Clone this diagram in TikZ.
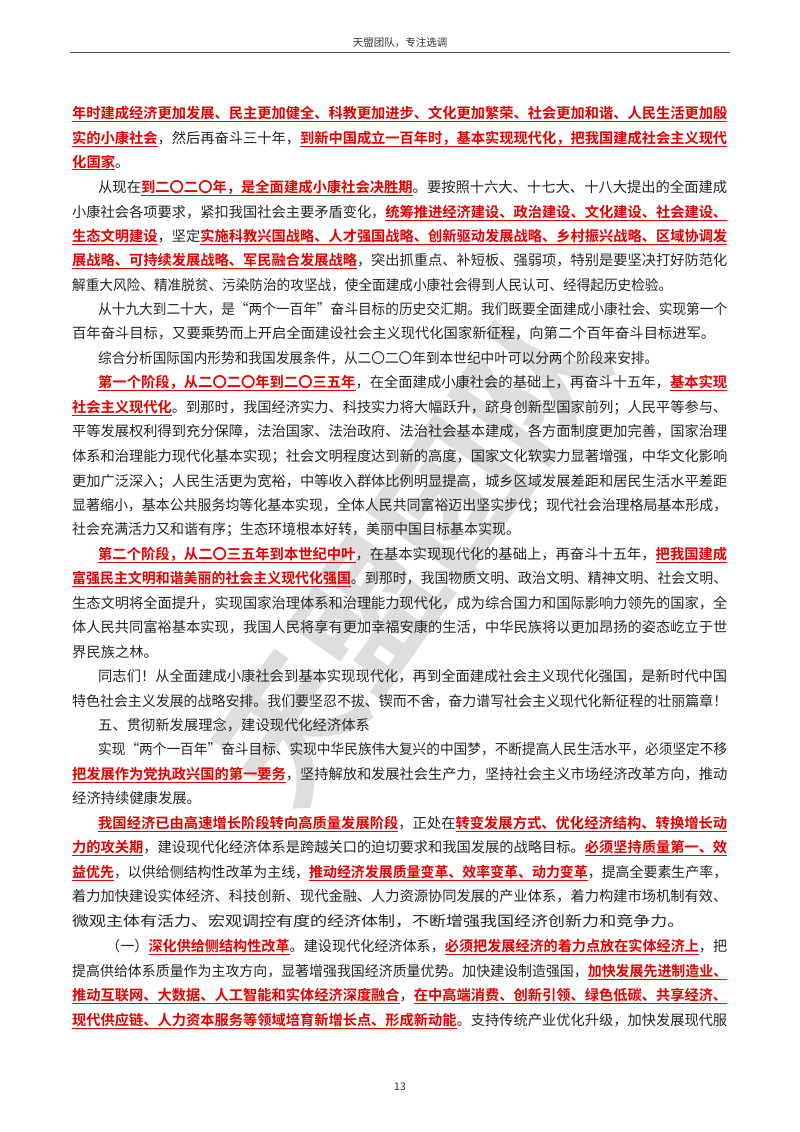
\documentclass[tikz,border=0pt]{standalone}
\usepackage{fontspec}
\usepackage{graphicx}
\setmainfont{Noto Sans CJK SC}[BoldFont={Noto Sans CJK SC Bold}]
\definecolor{hl}{RGB}{232,0,0}
\newcommand\R[1]{{\color{hl}\bfseries\underline{#1}}}
\newcommand\J[2]{\resizebox{#1}{\height}{#2}}
\newcommand\fs{\fontsize{14.3pt}{16pt}\selectfont}
\tikzset{ln/.style={anchor=base west,inner sep=0pt,font=\fs,text=black!85}}
\begin{document}
\begin{tikzpicture}[x=1pt,y=-1pt]
\useasboundingbox (0,0) rectangle (800,1132);
\fill[white] (0,0) rectangle (800,1132);
% watermark
\node[text=black!13,font=\fontsize{140pt}{140pt}\selectfont\bfseries,rotate=55,inner sep=0pt] (wm) at (410,555) {天盟团队};
% header
\node[font=\fontsize{10.5pt}{12pt}\selectfont,text=black!80] (hd) at (400,43) {天盟团队，专注选调};
\coordinate (hl1) at (70,52); \coordinate (hl2) at (730,52);
\draw[line width=0.5pt,black!70] (hl1) -- (hl2);
\node[font=\fontsize{10.5pt}{12pt}\selectfont,text=black!80] (pg) at (400,1087) {13};
% body
\node[ln] (l0) at (72,118) {\J{655pt}{\R{年时建成经济更加发展、民主更加健全、科教更加进步、文化更加繁荣、社会更加和谐、人民生活更加殷}}};
\node[ln] (l1) at (72,143) {\J{655pt}{\R{实的小康社会}，然后再奋斗三十年，\R{到新中国成立一百年时，基本实现现代化，把我国建成社会主义现代}}};
\node[ln] (l2) at (72,167) {\R{化国家}。};
\node[ln] (l3) at (98,192) {\J{629pt}{从现在\R{到二〇二〇年，是全面建成小康社会决胜期}。要按照十六大、十七大、十八大提出的全面建成}};
\node[ln] (l4) at (72,217) {\J{655pt}{小康社会各项要求，紧扣我国社会主要矛盾变化，\R{统筹推进经济建设、政治建设、文化建设、社会建设、}}};
\node[ln] (l5) at (72,241) {\J{655pt}{\R{生态文明建设}，坚定\R{实施科教兴国战略、人才强国战略、创新驱动发展战略、乡村振兴战略、区域协调发}}};
\node[ln] (l6) at (72,265) {\J{655pt}{\R{展战略、可持续发展战略、军民融合发展战略}，突出抓重点、补短板、强弱项，特别是要坚决打好防范化}};
\node[ln] (l7) at (72,290) {\J{600pt}{解重大风险、精准脱贫、污染防治的攻坚战，使全面建成小康社会得到人民认可、经得起历史检验。}};
\node[ln] (l8) at (98,314) {\J{629pt}{从十九大到二十大，是“两个一百年”奋斗目标的历史交汇期。我们既要全面建成小康社会、实现第一个}};
\node[ln] (l9) at (72,338) {\J{643pt}{百年奋斗目标，又要乘势而上开启全面建设社会主义现代化国家新征程，向第二个百年奋斗目标进军。}};
\node[ln] (l10) at (98,363) {\J{560pt}{综合分析国际国内形势和我国发展条件，从二〇二〇年到本世纪中叶可以分两个阶段来安排。}};
\node[ln] (l11) at (98,387) {\J{629pt}{\R{第一个阶段，从二〇二〇年到二〇三五年}，在全面建成小康社会的基础上，再奋斗十五年，\R{基本实现}}};
\node[ln] (l12) at (72,412) {\J{655pt}{\R{社会主义现代化}。到那时，我国经济实力、科技实力将大幅跃升，跻身创新型国家前列；人民平等参与、}};
\node[ln] (l13) at (72,436) {\J{655pt}{平等发展权利得到充分保障，法治国家、法治政府、法治社会基本建成，各方面制度更加完善，国家治理}};
\node[ln] (l14) at (72,461) {\J{655pt}{体系和治理能力现代化基本实现；社会文明程度达到新的高度，国家文化软实力显著增强，中华文化影响}};
\node[ln] (l15) at (72,486) {\J{655pt}{更加广泛深入；人民生活更为宽裕，中等收入群体比例明显提高，城乡区域发展差距和居民生活水平差距}};
\node[ln] (l16) at (72,510) {\J{655pt}{显著缩小，基本公共服务均等化基本实现，全体人民共同富裕迈出坚实步伐；现代社会治理格局基本形成，}};
\node[ln] (l17) at (72,534) {\J{448pt}{社会充满活力又和谐有序；生态环境根本好转，美丽中国目标基本实现。}};
\node[ln] (l18) at (98,559) {\J{629pt}{\R{第二个阶段，从二〇三五年到本世纪中叶}，在基本实现现代化的基础上，再奋斗十五年，\R{把我国建成}}};
\node[ln] (l19) at (72,583) {\J{655pt}{\R{富强民主文明和谐美丽的社会主义现代化强国}。到那时，我国物质文明、政治文明、精神文明、社会文明、}};
\node[ln] (l20) at (72,608) {\J{655pt}{生态文明将全面提升，实现国家治理体系和治理能力现代化，成为综合国力和国际影响力领先的国家，全}};
\node[ln] (l21) at (72,632) {\J{655pt}{体人民共同富裕基本实现，我国人民将享有更加幸福安康的生活，中华民族将以更加昂扬的姿态屹立于世}};
\node[ln] (l22) at (72,657) {界民族之林。};
\node[ln] (l23) at (98,681) {\J{629pt}{同志们！从全面建成小康社会到基本实现现代化，再到全面建成社会主义现代化强国，是新时代中国}};
\node[ln] (l24) at (72,706) {\J{655pt}{特色社会主义发展的战略安排。我们要坚忍不拔、锲而不舍，奋力谱写社会主义现代化新征程的壮丽篇章！}};
\node[ln] (l25) at (98,730) {五、贯彻新发展理念，建设现代化经济体系};
\node[ln] (l26) at (98,754) {\J{629pt}{实现“两个一百年”奋斗目标、实现中华民族伟大复兴的中国梦，不断提高人民生活水平，必须坚定不移}};
\node[ln] (l27) at (72,779) {\J{655pt}{\R{把发展作为党执政兴国的第一要务}，坚持解放和发展社会生产力，坚持社会主义市场经济改革方向，推动}};
\node[ln] (l28) at (72,803) {经济持续健康发展。};
\node[ln] (l29) at (98,828) {\J{629pt}{\R{我国经济已由高速增长阶段转向高质量发展阶段}，正处在\R{转变发展方式、优化经济结构、转换增长动}}};
\node[ln] (l30) at (72,852) {\J{655pt}{\R{力的攻关期}，建设现代化经济体系是跨越关口的迫切要求和我国发展的战略目标。\R{必须坚持质量第一、效}}};
\node[ln] (l31) at (72,877) {\J{655pt}{\R{益优先}，以供给侧结构性改革为主线，\R{推动经济发展质量变革、效率变革、动力变革}，提高全要素生产率，}};
\node[ln] (l32) at (72,901) {\J{655pt}{着力加快建设实体经济、科技创新、现代金融、人力资源协同发展的产业体系，着力构建市场机制有效、}};
\node[ln] (l33) at (72,926) {\J{612pt}{微观主体有活力、宏观调控有度的经济体制，不断增强我国经济创新力和竞争力。}};
\node[ln] (l34) at (106,951) {\J{621pt}{（一）\R{深化供给侧结构性改革}。建设现代化经济体系，\R{必须把发展经济的着力点放在实体经济上}，把}};
\node[ln] (l35) at (72,976) {\J{655pt}{提高供给体系质量作为主攻方向，显著增强我国经济质量优势。加快建设制造强国，\R{加快发展先进制造业、}}};
\node[ln] (l36) at (72,1000) {\J{655pt}{\R{推动互联网、大数据、人工智能和实体经济深度融合}，\R{在中高端消费、创新引领、绿色低碳、共享经济、}}};
\node[ln] (l37) at (72,1025) {\J{655pt}{\R{现代供应链、人力资本服务等领域培育新增长点、形成新动能}。支持传统产业优化升级，加快发展现代服}};
\end{tikzpicture}
\end{document}
